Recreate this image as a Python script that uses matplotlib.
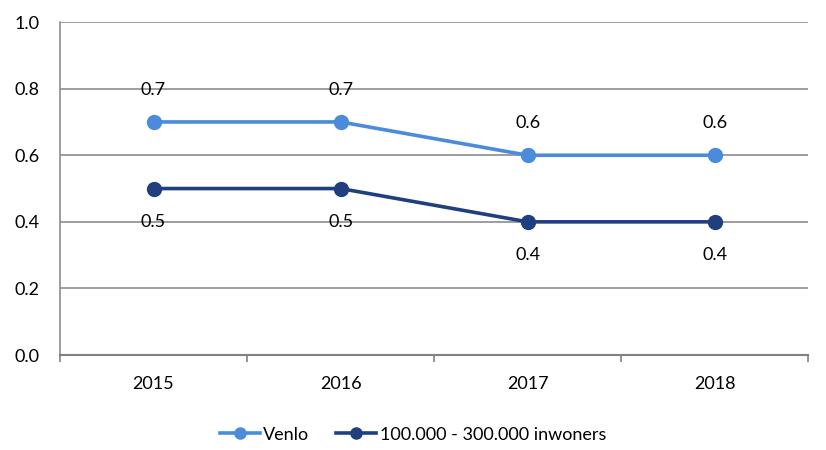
import matplotlib.pyplot as plt
import numpy as np

plt.rcParams['font.family'] = ['Lato', 'DejaVu Sans']

years = ['2015', '2016', '2017', '2018']
venlo = [0.7, 0.7, 0.6, 0.6]
groep = [0.5, 0.5, 0.4, 0.4]

c_venlo = '#4A8BDB'
c_groep = '#1F3F7F'

fig = plt.figure(figsize=(8.26, 4.5), dpi=100)
ax = fig.add_axes([0.0726, 0.211, 0.906, 0.74])

x = np.arange(len(years))
ax.plot(x, venlo, color=c_venlo, lw=2.6, marker='o', ms=10, label='Venlo', zorder=3)
ax.plot(x, groep, color=c_groep, lw=2.6, marker='o', ms=10,
        label='100.000 - 300.000 inwoners', zorder=3)

for xi, v in zip(x, venlo):
    ax.annotate(f'{v:.1f}', (xi, v), xytext=(0, 23), textcoords='offset points',
                ha='center', va='center', fontsize=13)
for xi, v in zip(x, groep):
    ax.annotate(f'{v:.1f}', (xi, v), xytext=(0, -24), textcoords='offset points',
                ha='center', va='center', fontsize=13)

ax.set_xlim(-0.5, len(years) - 0.5)
ax.set_ylim(0, 1.0)
ax.set_yticks(np.arange(0, 1.01, 0.2))
ax.set_yticklabels([f'{t:.1f}' for t in np.arange(0, 1.01, 0.2)], fontsize=13)
ax.set_xticks(x)
ax.set_xticklabels(years, fontsize=13)
ax.tick_params(axis='x', length=0, pad=15)
ax.tick_params(axis='y', length=0, pad=15)
ax.set_xticks(np.arange(-0.5, len(years)), minor=True)
ax.tick_params(axis='x', which='minor', length=5, color='#808080', width=1.2)

ax.yaxis.grid(True, color='#8C8C8C', lw=1.2)
ax.set_axisbelow(True)
for s in ['top', 'right']:
    ax.spines[s].set_visible(False)
ax.spines['left'].set_color('#8C8C8C')
ax.spines['bottom'].set_color('#808080')
ax.spines['left'].set_linewidth(1.2)
ax.spines['bottom'].set_linewidth(1.5)

fig.legend(loc='lower center', bbox_to_anchor=(0.5, -0.02), ncol=2, frameon=False,
           fontsize=13, handlelength=2.2, handletextpad=0.2, columnspacing=1.5,
           markerscale=0.8)

fig.savefig('out.png', dpi=100)
